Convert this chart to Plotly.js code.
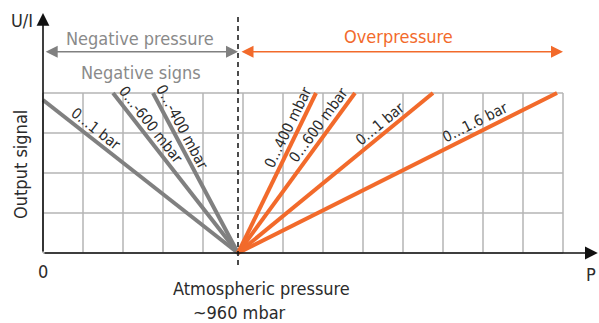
<!DOCTYPE html>
<html>
<head>
<meta charset="utf-8">
<script src="https://cdn.plot.ly/plotly-3.0.1.min.js"></script>
<style>html,body{margin:0;padding:0;background:#fff;}#chart{width:599px;height:323px;}</style>
</head>
<body>
<div id="chart"></div>
<script>
// ---- data ----
const negSeries = ['0…1 bar', '0…-600 mbar', '0…-400 mbar'];
const negFullX = [0, 1.75, 2.75];
const negFullY = [3.825, 4, 4];
const posSeries = ['0…400 mbar', '0…600 mbar', '0…1 bar', '0…1.6 bar'];
const posFullX = [6.825, 7.8, 9.75, 12.85];
const posFullY = [4, 4, 4, 4];
const atmX = 4.875;   // atmospheric pressure (~960 mbar) on the pressure axis
const atmY = 0;
const gridX = [0,1,2,3,4,5,6,7,8,9,10,11,12,13];
const gridY = [0,1,2,3,4];
const xLabels = ['0', 'Atmospheric pressure', '~960 mbar', 'P'];
const yLabels = ['U/I', 'Output signal'];
const headers = ['Negative pressure', 'Negative signs', 'Overpressure'];

// ---- style ----
const FONT = '"Liberation Sans Narrow", "DejaVu Sans Condensed", "Roboto", sans-serif';
const GRAY = '#808080';
const ORANGE = '#f26a2b';
const GRID = '#b5b5b5';
const TXT = '#2b2b2b';
const W = 599, H = 323;
const xr = [-1.075, 13.9];
const yr = [-1.75, 6.325];
const pxX = W / (xr[1] - xr[0]);
const pxY = H / (yr[1] - yr[0]);

const traces = [];
const annotations = [];
const shapes = [];

// grid
gridX.forEach(g => shapes.push({type:'line', xref:'x', yref:'y', x0:g, x1:g, y0:gridY[0], y1:gridY[gridY.length-1], line:{color:GRID, width:1.5}, layer:'below'}));
gridY.forEach(g => shapes.push({type:'line', xref:'x', yref:'y', x0:gridX[0], x1:gridX[gridX.length-1], y0:g, y1:g, line:{color:GRID, width:1.5}, layer:'below'}));

// dashed atmospheric line
shapes.push({type:'line', xref:'x', yref:'y', x0:atmX, x1:atmX, y0:-0.3, y1:6.0, line:{color:'#111', width:1.5, dash:'5px,4px'}});

function addSeries(names, fx, fy, color) {
  names.forEach((n, i) => {
    traces.push({type:'scatter', mode:'lines', x:[fx[i], atmX], y:[fy[i], atmY], line:{color:color, width:4}, hoverinfo:'skip', showlegend:false, name:n});
    // label along the line
    let dx = (fx[i] - atmX) * pxX, dy = -(fy[i] - atmY) * pxY;
    if (dx < 0) { dx = -dx; dy = -dy; }
    const th = Math.atan2(dy, dx);
    const t = 0.76;
    const off = 10;
    annotations.push({
      x: atmX + t * (fx[i] - atmX), y: atmY + t * (fy[i] - atmY), xref:'x', yref:'y',
      text: n, showarrow:false, textangle: th * 180 / Math.PI,
      xshift: off * Math.sin(th), yshift: off * Math.cos(th),
      font:{family:FONT, size:15, color:TXT}
    });
  });
}
addSeries(negSeries, negFullX, negFullY, GRAY);
addSeries(posSeries, posFullX, posFullY, ORANGE);

// axes arrows
annotations.push({x:0, y:6.0, ax:0, ay:0, axref:'x', ayref:'y', xref:'x', yref:'y', text:'', showarrow:true, arrowhead:2, arrowsize:1.6, arrowwidth:1.6, arrowcolor:'#111'});
annotations.push({x:13.87, y:0, ax:0, ay:0, axref:'x', ayref:'y', xref:'x', yref:'y', text:'', showarrow:true, arrowhead:2, arrowsize:1.6, arrowwidth:1.6, arrowcolor:'#111'});

// range arrows
annotations.push({x:atmX, y:5.03, ax:0.03, ay:5.03, axref:'x', ayref:'y', xref:'x', yref:'y', text:'', showarrow:true, arrowside:'end+start', arrowhead:2, startarrowhead:2, arrowsize:1.6, startarrowsize:1.6, arrowwidth:1.5, arrowcolor:GRAY});
annotations.push({x:13, y:5.03, ax:atmX + 0.05, ay:5.03, axref:'x', ayref:'y', xref:'x', yref:'y', text:'', showarrow:true, arrowside:'end+start', arrowhead:2, startarrowhead:2, arrowsize:1.6, startarrowsize:1.6, arrowwidth:1.5, arrowcolor:ORANGE});

// header texts
function pxToX(px){ return xr[0] + px / pxX; }
function pyToY(py){ return yr[1] - py / pxY; }
annotations.push({x:pxToX(140), y:pyToY(38), xref:'x', yref:'y', text:headers[0], showarrow:false, font:{family:FONT, size:18, color:'#8a8a8a'}});
annotations.push({x:pxToX(141), y:pyToY(72), xref:'x', yref:'y', text:headers[1], showarrow:false, font:{family:FONT, size:18, color:'#8a8a8a'}});
annotations.push({x:pxToX(398), y:pyToY(36), xref:'x', yref:'y', text:headers[2], showarrow:false, font:{family:FONT, size:18, color:ORANGE}});

// axis labels
annotations.push({x:pxToX(22), y:pyToY(20), xref:'x', yref:'y', text:yLabels[0], showarrow:false, font:{family:FONT, size:18, color:TXT}});
annotations.push({x:pxToX(20), y:pyToY(165), xref:'x', yref:'y', text:yLabels[1], showarrow:false, textangle:-90, font:{family:FONT, size:18, color:TXT}});
annotations.push({x:0, y:pyToY(271), xref:'x', yref:'y', text:xLabels[0], showarrow:false, font:{family:FONT, size:18, color:TXT}});
annotations.push({x:pxToX(261), y:pyToY(288), xref:'x', yref:'y', text:xLabels[1], showarrow:false, font:{family:FONT, size:18, color:TXT}});
annotations.push({x:pxToX(239), y:pyToY(312), xref:'x', yref:'y', text:xLabels[2], showarrow:false, font:{family:FONT, size:18, color:TXT}});
annotations.push({x:pxToX(598), y:pyToY(274), xref:'x', yref:'y', text:xLabels[3], showarrow:false, xanchor:'right', font:{family:FONT, size:18, color:TXT}});

const layout = {
  width: W, height: H,
  margin:{l:0, r:0, t:0, b:0, pad:0},
  paper_bgcolor:'#fff', plot_bgcolor:'#fff',
  xaxis:{range:xr, visible:false, fixedrange:true},
  yaxis:{range:yr, visible:false, fixedrange:true},
  showlegend:false,
  shapes: shapes,
  annotations: annotations
};
Plotly.newPlot('chart', traces, layout, {displayModeBar:false, staticPlot:true});
</script>
</body>
</html>
